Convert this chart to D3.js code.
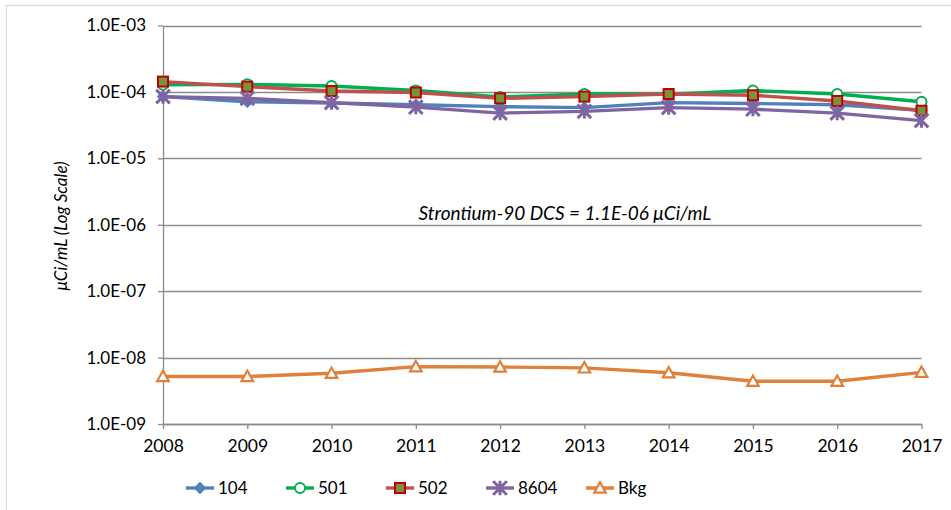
<!DOCTYPE html>
<html>
<head>
<meta charset="utf-8">
<script src="https://cdn.jsdelivr.net/npm/d3@7"></script>
<style>
  html, body { margin: 0; padding: 0; background: #fff; }
  svg { display: block; font-family: Lato, "Open Sans", sans-serif; }
</style>
</head>
<body>
<svg id="chart" width="951" height="510"></svg>
<script>
const years = [2008, 2009, 2010, 2011, 2012, 2013, 2014, 2015, 2016, 2017];
const s104  = [8.5e-5, 7.1e-5, 6.8e-5, 6.4e-5, 6.0e-5, 5.8e-5, 6.9e-5, 6.7e-5, 6.4e-5, 5.3e-5];
const s501  = [1.28e-4, 1.30e-4, 1.23e-4, 1.05e-4, 0.84e-4, 0.93e-4, 0.92e-4, 1.05e-4, 0.93e-4, 0.71e-4];
const s502  = [1.43e-4, 1.20e-4, 1.03e-4, 0.98e-4, 0.80e-4, 0.85e-4, 0.93e-4, 0.89e-4, 0.73e-4, 0.52e-4];
const s8604 = [8.5e-5, 8.0e-5, 6.9e-5, 5.9e-5, 4.8e-5, 5.1e-5, 5.8e-5, 5.5e-5, 4.8e-5, 3.7e-5];
const sBkg  = [5.2e-9, 5.2e-9, 5.8e-9, 7.3e-9, 7.2e-9, 7.0e-9, 5.9e-9, 4.4e-9, 4.4e-9, 6.0e-9];
const yTicks = [1e-3, 1e-4, 1e-5, 1e-6, 1e-7, 1e-8, 1e-9];
const yTickLabels = ["1.0E-03", "1.0E-04", "1.0E-05", "1.0E-06", "1.0E-07", "1.0E-08", "1.0E-09"];
const yTitle = "\u03BCCi/mL (Log Scale)";
const note = "Strontium-90 DCS = 1.1E-06 \u03BCCi/mL";

const series = [
  {name: "104",  values: s104,  line: "#4F81BD", marker: "diamond"},
  {name: "501",  values: s501,  line: "#00B050", marker: "circle"},
  {name: "502",  values: s502,  line: "#C0504D", marker: "square"},
  {name: "8604", values: s8604, line: "#8064A2", marker: "star"},
  {name: "Bkg",  values: sBkg,  line: "#E0803A", marker: "triangle"}
];

const svg = d3.select("#chart");
const L = 163, R = 921.5, T = 25.5, B = 424;

// outer frame
svg.append("rect").attr("x", 6.5).attr("y", 5.5).attr("width", 1000).attr("height", 1000)
  .attr("fill", "none").attr("stroke", "#D9D9D9").attr("stroke-width", 1.2);

const x = d3.scaleLinear().domain([2008, 2017]).range([L, R]);
const y = d3.scaleLog().domain([1e-9, 1e-3]).range([B, T]);

// gridlines
svg.append("g").selectAll("line").data(yTicks).join("line")
  .attr("x1", L).attr("x2", R)
  .attr("y1", d => Math.round(y(d)) + 0.5).attr("y2", d => Math.round(y(d)) + 0.5)
  .attr("stroke", "#8C8C8C").attr("stroke-width", 1.3);

// y axis
const yAxis = d3.axisLeft(y).tickValues(yTicks)
  .tickFormat((d, i) => yTickLabels[i]).tickSizeInner(5).tickSizeOuter(0).tickPadding(12);
const gy = svg.append("g").attr("transform", `translate(${L},0)`).call(yAxis);
gy.select(".domain").attr("stroke", "#8C8C8C").attr("stroke-width", 1.3);
gy.selectAll(".tick line").attr("stroke", "#8C8C8C").attr("stroke-width", 1.3);
gy.selectAll("text").attr("font-size", 17).attr("fill", "#000").attr("font-family", "Lato, sans-serif");

// x axis
const xAxis = d3.axisBottom(x).tickValues(years).tickFormat(d3.format("d"))
  .tickSizeInner(5).tickSizeOuter(0).tickPadding(11);
const gx = svg.append("g").attr("transform", `translate(0,${B})`).call(xAxis);
gx.select(".domain").attr("stroke", "#8C8C8C").attr("stroke-width", 1.3);
gx.selectAll(".tick line").attr("stroke", "#8C8C8C").attr("stroke-width", 1.3);
gx.selectAll("text").attr("font-size", 17.5).attr("fill", "#000").attr("font-family", "Lato, sans-serif");

// y title
svg.append("text").attr("transform", `translate(67,${226}) rotate(-90)`)
  .attr("text-anchor", "middle").attr("font-size", 17).attr("font-style", "italic")
  .attr("fill", "#000").text(yTitle);

// annotation
svg.append("text").attr("x", 565).attr("y", 220).attr("text-anchor", "middle")
  .attr("font-size", 19).attr("font-style", "italic").attr("fill", "#000").text(note);

function drawMarker(g, type, color, cx, cy, scale) {
  const s = scale || 1;
  if (type === "diamond") {
    const r = 5.8 * s;
    g.append("path").attr("d", `M${cx},${cy - r}L${cx + r},${cy}L${cx},${cy + r}L${cx - r},${cy}Z`)
      .attr("fill", color).attr("stroke", color).attr("stroke-width", 1);
  } else if (type === "circle") {
    g.append("circle").attr("cx", cx).attr("cy", cy).attr("r", 5 * s)
      .attr("fill", "#fff").attr("stroke", color).attr("stroke-width", 2);
  } else if (type === "square") {
    const h = 5 * s;
    g.append("rect").attr("x", cx - h).attr("y", cy - h).attr("width", 2 * h).attr("height", 2 * h)
      .attr("fill", "#77933C").attr("stroke", "#C00000").attr("stroke-width", 2);
  } else if (type === "star") {
    const r = 6.8 * s;
    const d = `M${cx - r},${cy - r}L${cx + r},${cy + r}M${cx - r},${cy + r}L${cx + r},${cy - r}M${cx},${cy - r * 1.05}L${cx},${cy + r * 1.05}`;
    g.append("path").attr("d", d).attr("stroke", color).attr("stroke-width", 3).attr("fill", "none");
  } else if (type === "triangle") {
    const r = 5.8 * s;
    g.append("path").attr("d", `M${cx},${cy - r}L${cx + r},${cy + r * 0.8}L${cx - r},${cy + r * 0.8}Z`)
      .attr("fill", "#fff").attr("stroke", color).attr("stroke-width", 2.2).attr("stroke-linejoin", "miter");
  }
}

const line = d3.line().x((d, i) => x(years[i])).y(d => y(d));

series.forEach(s => {
  const g = svg.append("g");
  g.append("path").attr("d", line(s.values)).attr("fill", "none")
    .attr("stroke", s.line).attr("stroke-width", 3.4).attr("stroke-linejoin", "round");
  s.values.forEach((v, i) => drawMarker(g, s.marker, s.line, x(years[i]), y(v)));
});

// legend
const lg = svg.append("g");
series.forEach((s, i) => {
  const x0 = 186 + i * 100, yy = 488;
  lg.append("line").attr("x1", x0).attr("x2", x0 + 28).attr("y1", yy).attr("y2", yy)
    .attr("stroke", s.line).attr("stroke-width", 3.4);
  drawMarker(lg, s.marker, s.line, x0 + 14, yy, 1);
  lg.append("text").attr("x", x0 + 32).attr("y", yy + 6).attr("font-size", 17)
    .attr("fill", "#000").text(s.name);
});
</script>
</body>
</html>
